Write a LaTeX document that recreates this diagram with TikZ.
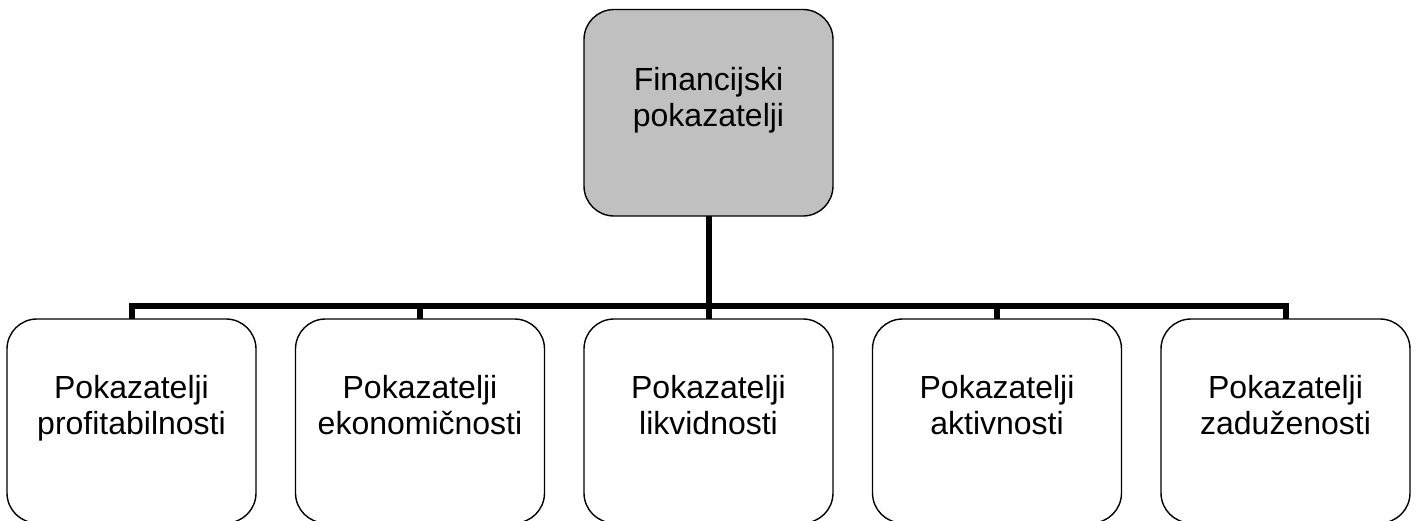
\documentclass[tikz,border=0pt]{standalone}
\usepackage{fontspec}
\setmainfont{Liberation Sans}
\definecolor{boxgray}{HTML}{C0C0C0}
\begin{document}
\begin{tikzpicture}[x=1pt,y=-1pt,
  box/.style={draw=black, line width=1.4pt, rounded corners=30pt, inner sep=0pt, outer sep=0pt,
    minimum width=249pt},
  rootbox/.style={box, fill=boxgray, minimum height=206.5pt},
  childbox/.style={box, fill=white, minimum height=204pt},
  lbl/.style={align=center, inner sep=0pt, font=\fontsize{32}{36}\selectfont, anchor=base},
  bus/.style={line width=6pt, line join=miter}]
\useasboundingbox (0,0) rectangle (1416,520);
\node[rootbox] (root) at (708.5,112.75) {};
\node[childbox] (c1) at (131.5,421) {};
\node[childbox] (c2) at (420,421) {};
\node[childbox] (c3) at (708.5,421) {};
\node[childbox] (c4) at (997,421) {};
\node[childbox] (c5) at (1285.5,421) {};
\coordinate (busy) at (0,306);
\foreach \c in {c1,c2,c3,c4,c5}{
  \draw[bus] (root.south) -- (root.south |- busy) -| (\c.north);
}
\node[lbl] (troot) at (708.5,126) {Financijski\\pokazatelji};
\node[lbl] (t1) at (131.5,434) {Pokazatelji\\profitabilnosti};
\node[lbl] (t2) at (420,434) {Pokazatelji\\ekonomičnosti};
\node[lbl] (t3) at (708.5,434) {Pokazatelji\\likvidnosti};
\node[lbl] (t4) at (997,434) {Pokazatelji\\aktivnosti};
\node[lbl] (t5) at (1285.5,434) {Pokazatelji\\zaduženosti};
\end{tikzpicture}
\end{document}
